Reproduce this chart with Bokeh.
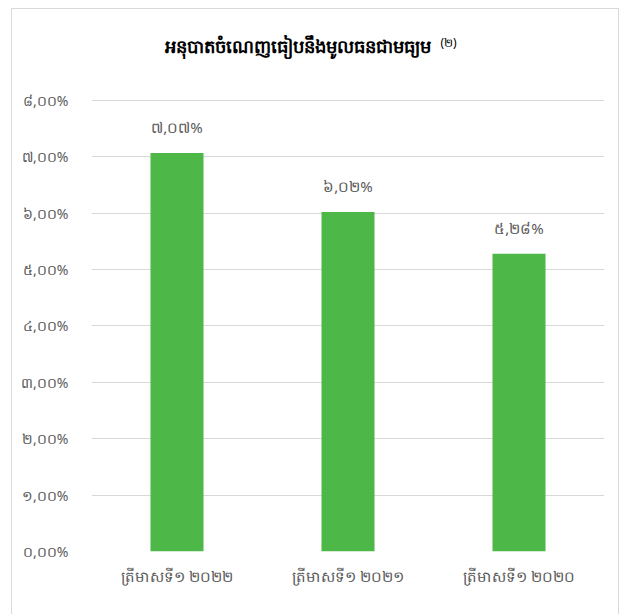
from bokeh.plotting import figure
from bokeh.models import ColumnDataSource, FixedTicker
from bokeh.core.properties import value
from bokeh.embed import file_html
from bokeh.resources import INLINE

title_text = "អនុបាតចំណេញធៀបនឹងមូលធនជាមធ្យម"
title_note = "(២)"
categories = ["ត្រីមាសទី១ ២០២២", "ត្រីមាសទី១ ២០២១", "ត្រីមាសទី១ ២០២០"]
values = [7.07, 6.02, 5.28]
value_labels = ["៧,០៧%", "៦,០២%", "៥,២៨%"]
tick_values = [0, 1, 2, 3, 4, 5, 6, 7, 8]
tick_labels = ["០,០០%", "១,០០%", "២,០០%", "៣,០០%", "៤,០០%", "៥,០០%", "៦,០០%", "៧,០០%", "៨,០០%"]

src = ColumnDataSource(dict(cat=categories, val=values, lab=value_labels))

W, H = 608, 606
ML, MR, MT, MB = 79, 16, 23, 64
YMAX = 8
p = figure(x_range=categories, y_range=(0, 9.206), width=W, height=H,
           output_backend="svg", toolbar_location=None,
           min_border_left=ML, min_border_right=MR, min_border_top=MT, min_border_bottom=MB)
p.styles = {"border": "1px solid #d9d9d9", "border-bottom": "none", "box-sizing": "border-box",
            "margin-left": "11px", "margin-top": "8px"}

p.vbar(x="cat", top="val", width=0.31, source=src, color="#4DB748", line_color=None)
p.text(x="cat", y="val", text="lab", source=src, text_align="center", text_baseline="middle",
       y_offset=-26, text_font=value("Noto Sans"), text_font_size="15px", text_color="#595959")

# chart title, anchored at the left edge / top gridline and shifted in pixels
p.text(x=[0], y=[YMAX], text=[title_text], x_offset=73, y_offset=-54,
       text_font=value("Noto Sans"), text_font_size="18px", text_font_style="bold",
       text_color="#000000", text_align="left", text_baseline="middle")
p.text(x=[0], y=[YMAX], text=[title_note], x_offset=349, y_offset=-58,
       text_font=value("Noto Sans"), text_font_size="12px",
       text_color="#000000", text_align="left", text_baseline="middle")

p.yaxis.ticker = FixedTicker(ticks=tick_values)
p.yaxis.major_label_overrides = {t: l for t, l in zip(tick_values, tick_labels)}
for ax in (p.xaxis, p.yaxis):
    ax.axis_line_color = None
    ax.major_tick_line_color = None
    ax.minor_tick_line_color = None
    ax.major_label_text_font = "Noto Sans"
    ax.major_label_text_color = "#595959"
p.yaxis.major_label_text_font_size = "14px"
p.yaxis.major_label_standoff = 17
p.xaxis.major_label_text_font_size = "15px"
p.xaxis.major_label_standoff = 8

p.xgrid.grid_line_color = None
p.ygrid.grid_line_color = "#d9d9d9"
p.ygrid.grid_line_width = 1
p.outline_line_color = None
p.background_fill_color = "white"
p.border_fill_color = "white"

open("out.html", "w").write(file_html(p, INLINE))
